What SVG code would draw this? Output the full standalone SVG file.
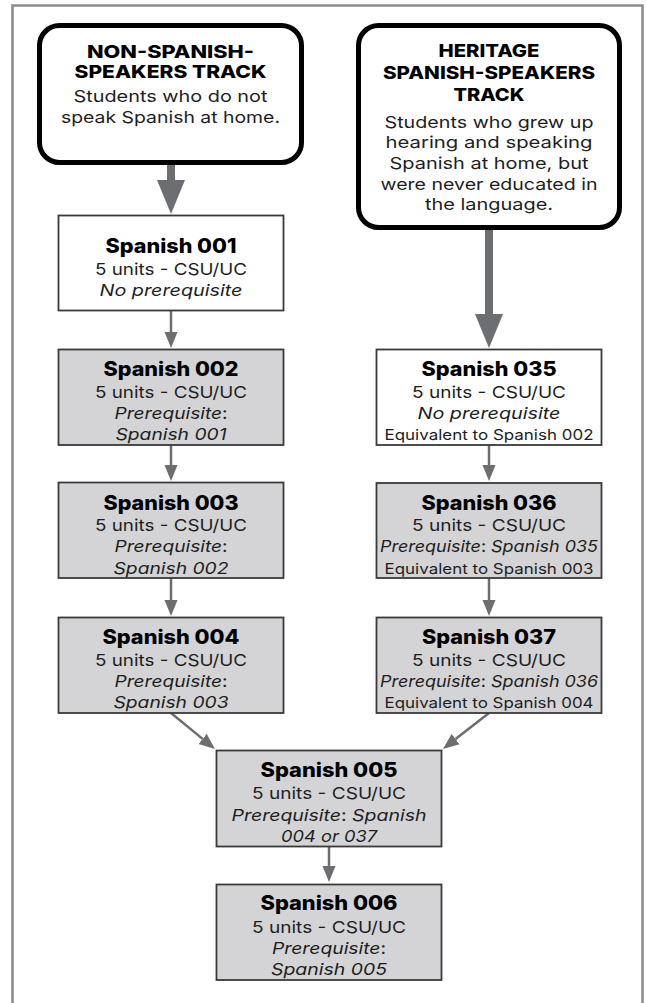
<svg xmlns="http://www.w3.org/2000/svg" width="646" height="1003" viewBox="0 0 646 1003">
<defs>
<marker id="ah" markerUnits="userSpaceOnUse" markerWidth="16" markerHeight="14" viewBox="0 -7 16 14" refX="0" refY="0" orient="auto"><path d="M0,-6.5 L16,0 L0,6.5 Z" fill="#6d6e71"/></marker>
<marker id="ahb" markerUnits="userSpaceOnUse" markerWidth="34" markerHeight="28" viewBox="0 -14 34 28" refX="0" refY="0" orient="auto"><path d="M0,-14 L34,0 L0,14 Z" fill="#6d6e71"/></marker>
</defs>
<style>
text{font-family:Inter,"Liberation Sans",sans-serif;text-anchor:middle;fill:#1e1e1e}
.hb{font-size:17.5px;font-weight:800;fill:#000}
.hr{font-size:16.5px}
.t{font-size:20px;font-weight:800;fill:#000}
.b{font-size:16.5px}
.i{font-style:italic}
.e{font-size:14.5px}
.hdr{fill:#fff;stroke:#000;stroke-width:5}
.w{fill:#fff;stroke:#3a3a3a;stroke-width:1.8}
.g{fill:#d4d4d6;stroke:#3a3a3a;stroke-width:1.8}
.c{stroke:#6d6e71;stroke-width:2.5;fill:none;marker-end:url(#ah)}
.cb{stroke:#6d6e71;stroke-width:8;fill:none;marker-end:url(#ahb)}
</style>
<rect width="646" height="1003" fill="#fff"/>
<path d="M12.5,1010 V5.5 H642.5 V1010" fill="none" stroke="#8d8d8d" stroke-width="2.6"/>

<g id="connectors">
<path class="cb" d="M171,163 V180"/>
<path class="cb" d="M489,228 V314"/>
<path class="c" d="M171,311 V332"/>
<path class="c" d="M171,445 V465"/>
<path class="c" d="M171,578 V600"/>
<path class="c" d="M489,445 V465"/>
<path class="c" d="M489,578 V600"/>
<path class="c" d="M329,847 V866"/>
<path class="c" d="M171,713 L202.6,738.9"/>
<path class="c" d="M489,713 L455.6,739.1"/>
</g>

<g id="track-non">
<rect class="hdr" x="39.5" y="25.5" width="262" height="137" rx="20"/>
<text class="hb" x="170.5" y="57.5" textLength="167" lengthAdjust="spacingAndGlyphs">NON-SPANISH-</text>
<text class="hb" x="170.5" y="78" textLength="192" lengthAdjust="spacingAndGlyphs">SPEAKERS TRACK</text>
<text class="hr" x="170.5" y="101.5" textLength="194" lengthAdjust="spacingAndGlyphs">Students who do not</text>
<text class="hr" x="170.5" y="123" textLength="219" lengthAdjust="spacingAndGlyphs">speak Spanish at home.</text>
</g>

<g id="track-heritage">
<rect class="hdr" x="358.5" y="25.5" width="261" height="202" rx="20"/>
<text class="hb" x="489" y="57" textLength="101" lengthAdjust="spacingAndGlyphs">HERITAGE</text>
<text class="hb" x="489" y="78.5" textLength="212" lengthAdjust="spacingAndGlyphs">SPANISH-SPEAKERS</text>
<text class="hb" x="489" y="100.5" textLength="71" lengthAdjust="spacingAndGlyphs">TRACK</text>
<text class="hr" x="489" y="127.5" textLength="209" lengthAdjust="spacingAndGlyphs">Students who grew up</text>
<text class="hr" x="489" y="148" textLength="207" lengthAdjust="spacingAndGlyphs">hearing and speaking</text>
<text class="hr" x="489" y="168.5" textLength="199" lengthAdjust="spacingAndGlyphs">Spanish at home, but</text>
<text class="hr" x="489" y="189.5" textLength="217" lengthAdjust="spacingAndGlyphs">were never educated in</text>
<text class="hr" x="489" y="209.5" textLength="128" lengthAdjust="spacingAndGlyphs">the language.</text>
</g>

<g id="spanish-001">
<rect class="w" x="58.5" y="215.5" width="225" height="95"/>
<text class="t" x="171" y="253" textLength="131" lengthAdjust="spacingAndGlyphs">Spanish 001</text>
<text class="b" x="171" y="275" textLength="152" lengthAdjust="spacingAndGlyphs">5 units - CSU/UC</text>
<text class="b i" x="171" y="296" textLength="143" lengthAdjust="spacingAndGlyphs">No prerequisite</text>
</g>

<g id="spanish-002">
<rect class="g" x="58.5" y="349.5" width="225" height="95.5"/>
<text class="t" x="171" y="376" textLength="135" lengthAdjust="spacingAndGlyphs">Spanish 002</text>
<text class="b" x="171" y="397.5" textLength="152" lengthAdjust="spacingAndGlyphs">5 units - CSU/UC</text>
<text class="b" x="171" y="418.5" textLength="113" lengthAdjust="spacingAndGlyphs"><tspan class="i">Prerequisite</tspan>:</text>
<text class="b i" x="171" y="440" textLength="111" lengthAdjust="spacingAndGlyphs">Spanish 001</text>
</g>

<g id="spanish-003">
<rect class="g" x="58.5" y="482.5" width="225" height="95.5"/>
<text class="t" x="171" y="509.5" textLength="135" lengthAdjust="spacingAndGlyphs">Spanish 003</text>
<text class="b" x="171" y="531" textLength="152" lengthAdjust="spacingAndGlyphs">5 units - CSU/UC</text>
<text class="b" x="171" y="552" textLength="113" lengthAdjust="spacingAndGlyphs"><tspan class="i">Prerequisite</tspan>:</text>
<text class="b i" x="171" y="573.5" textLength="115" lengthAdjust="spacingAndGlyphs">Spanish 002</text>
</g>

<g id="spanish-004">
<rect class="g" x="58.5" y="617.5" width="225" height="95.5"/>
<text class="t" x="171" y="644" textLength="137" lengthAdjust="spacingAndGlyphs">Spanish 004</text>
<text class="b" x="171" y="665.5" textLength="152" lengthAdjust="spacingAndGlyphs">5 units - CSU/UC</text>
<text class="b" x="171" y="686.5" textLength="113" lengthAdjust="spacingAndGlyphs"><tspan class="i">Prerequisite</tspan>:</text>
<text class="b i" x="171" y="708" textLength="115" lengthAdjust="spacingAndGlyphs">Spanish 003</text>
</g>

<g id="spanish-035">
<rect class="w" x="376.5" y="349.5" width="225" height="95.5"/>
<text class="t" x="489" y="375.5" textLength="135" lengthAdjust="spacingAndGlyphs">Spanish 035</text>
<text class="b" x="489" y="398" textLength="154" lengthAdjust="spacingAndGlyphs">5 units - CSU/UC</text>
<text class="b i" x="489" y="418.5" textLength="143" lengthAdjust="spacingAndGlyphs">No prerequisite</text>
<text class="e" x="489" y="439.5" textLength="209" lengthAdjust="spacingAndGlyphs">Equivalent to Spanish 002</text>
</g>

<g id="spanish-036">
<rect class="g" x="376.5" y="483" width="225" height="95"/>
<text class="t" x="489" y="509.5" textLength="135" lengthAdjust="spacingAndGlyphs">Spanish 036</text>
<text class="b" x="489" y="531" textLength="154" lengthAdjust="spacingAndGlyphs">5 units - CSU/UC</text>
<text class="b" x="489" y="552" textLength="218" lengthAdjust="spacingAndGlyphs"><tspan class="i">Prerequisite</tspan>: <tspan class="i">Spanish 035</tspan></text>
<text class="e" x="489" y="573.5" textLength="209" lengthAdjust="spacingAndGlyphs">Equivalent to Spanish 003</text>
</g>

<g id="spanish-037">
<rect class="g" x="376.5" y="617.5" width="225" height="95.5"/>
<text class="t" x="489" y="644" textLength="134" lengthAdjust="spacingAndGlyphs">Spanish 037</text>
<text class="b" x="489" y="665.5" textLength="154" lengthAdjust="spacingAndGlyphs">5 units - CSU/UC</text>
<text class="b" x="489" y="686.5" textLength="218" lengthAdjust="spacingAndGlyphs"><tspan class="i">Prerequisite</tspan>: <tspan class="i">Spanish 036</tspan></text>
<text class="e" x="489" y="708" textLength="209" lengthAdjust="spacingAndGlyphs">Equivalent to Spanish 004</text>
</g>

<g id="spanish-005">
<rect class="g" x="216.5" y="750.5" width="225" height="96"/>
<text class="t" x="329" y="777" textLength="137" lengthAdjust="spacingAndGlyphs">Spanish 005</text>
<text class="b" x="329" y="799" textLength="154" lengthAdjust="spacingAndGlyphs">5 units - CSU/UC</text>
<text class="b" x="329" y="820.5" textLength="195" lengthAdjust="spacingAndGlyphs"><tspan class="i">Prerequisite</tspan>: <tspan class="i">Spanish</tspan></text>
<text class="b i" x="329" y="841.5" textLength="96" lengthAdjust="spacingAndGlyphs">004 or 037</text>
</g>

<g id="spanish-006">
<rect class="g" x="216.5" y="884.5" width="225" height="95.5"/>
<text class="t" x="329" y="910" textLength="137" lengthAdjust="spacingAndGlyphs">Spanish 006</text>
<text class="b" x="329" y="932.5" textLength="154" lengthAdjust="spacingAndGlyphs">5 units - CSU/UC</text>
<text class="b" x="329" y="954" textLength="114" lengthAdjust="spacingAndGlyphs"><tspan class="i">Prerequisite</tspan>:</text>
<text class="b i" x="329" y="975" textLength="116" lengthAdjust="spacingAndGlyphs">Spanish 005</text>
</g>
</svg>
